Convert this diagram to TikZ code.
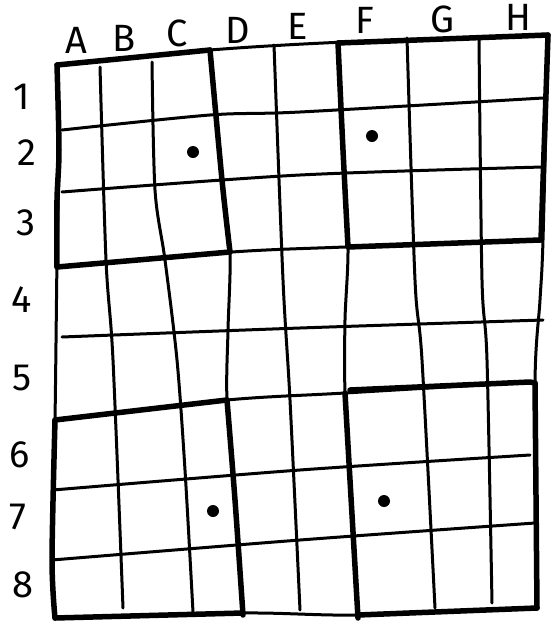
\documentclass[tikz,border=0pt]{standalone}
\usepackage{fontspec}
\setmainfont{Fira Sans}
\begin{document}
\begin{tikzpicture}[x=1pt,y=-1pt,line join=round,line cap=round,
  thin line/.style={line width=3pt},
  thick line/.style={line width=5.5pt},
  lbl/.style={font=\fontsize{38}{38}\selectfont,inner sep=0pt},
  stone/.style={circle,fill=black,inner sep=0pt,minimum size=12pt}]
\useasboundingbox (0,0) rectangle (551,627);
% labels
\node[lbl] (cA) at (76,40) {A};
\node[lbl] (cB) at (124,38) {B};
\node[lbl] (cC) at (177,33) {C};
\node[lbl] (cD) at (238,30) {D};
\node[lbl] (cE) at (298,26) {E};
\node[lbl] (cF) at (365,20) {F};
\node[lbl] (cG) at (442,19) {G};
\node[lbl] (cH) at (518,17) {H};
\node[lbl] (r1) at (22,97) {1};
\node[lbl] (r2) at (27,153) {2};
\node[lbl] (r3) at (26,223) {3};
\node[lbl] (r4) at (22,300) {4};
\node[lbl] (r5) at (22,378) {5};
\node[lbl] (r6) at (20,455) {6};
\node[lbl] (r7) at (18,517) {7};
\node[lbl] (r8) at (23,585) {8};
% vertical lines
\draw[thin line] plot[smooth,tension=0.5] coordinates {(57,65) (59,150) (57,260) (55,420) (52,560) (55,618)};
\draw[thin line] plot[smooth,tension=0.5] coordinates {(100,67) (106,260) (113,360) (123,608)};
\draw[thin line] plot[smooth,tension=0.5] coordinates {(152,62) (155,190) (165,260) (177,360) (185,470) (193,612)};
\draw[thin line] plot[smooth,tension=0.5] coordinates {(210,50) (222,180) (230,252) (228,330) (227,400) (235,500) (243,615)};
\draw[thin line] plot[smooth,tension=0.5] coordinates {(274,45) (283,280) (290,400) (300,610)};
\draw[thin line] plot[smooth,tension=0.5] coordinates {(338,43) (343,150) (348,247) (345,320) (345,393) (350,480) (358,618)};
\draw[thin line] plot[smooth,tension=0.5] coordinates {(407,38) (415,280) (422,360) (435,608)};
\draw[thin line] plot[smooth,tension=0.5] coordinates {(479,40) (482,280) (487,360) (492,603)};
\draw[thin line] plot[smooth,tension=0.5] coordinates {(548,35) (543,240) (540,300) (535,383) (537,608)};
% horizontal lines
\draw[thin line] plot[smooth,tension=0.5] coordinates {(57,65) (210,50) (345,42) (548,35)};
\draw[thin line] plot[smooth,tension=0.5] coordinates {(62,130) (210,115) (300,112) (543,98)};
\draw[thin line] plot[smooth,tension=0.5] coordinates {(62,192) (300,175) (543,167)};
\draw[thin line] plot[smooth,tension=0.5] coordinates {(57,267) (232,252) (345,247) (540,240)};
\draw[thin line] plot[smooth,tension=0.5] coordinates {(62,337) (300,328) (543,320)};
\draw[thin line] plot[smooth,tension=0.5] coordinates {(55,420) (227,400) (345,393) (530,382)};
\draw[thin line] plot[smooth,tension=0.5] coordinates {(53,490) (300,470) (530,455)};
\draw[thin line] plot[smooth,tension=0.5] coordinates {(52,560) (300,540) (535,523)};
\draw[thin line] plot[smooth,tension=0.5] coordinates {(55,618) (243,613) (358,615) (537,608)};
% thick 3x3 boxes
\draw[thick line] (57,65) -- (210,50);
\draw[thick line] plot[smooth,tension=0.5] coordinates {(210,50) (222,180) (230,252)};
\draw[thick line] (230,252) -- (57,267);
\draw[thick line] plot[smooth,tension=0.5] coordinates {(57,267) (57,200) (59,150) (57,65)};
\draw[thick line] (338,43) -- (548,35);
\draw[thick line] (548,35) -- (541,240);
\draw[thick line] (540,240) -- (348,247);
\draw[thick line] plot[smooth,tension=0.5] coordinates {(338,43) (343,150) (348,247)};
\draw[thick line] (55,420) -- (227,400);
\draw[thick line] plot[smooth,tension=0.5] coordinates {(227,400) (235,500) (243,615)};
\draw[thick line] (243,613) -- (55,618);
\draw[thick line] plot[smooth,tension=0.5] coordinates {(55,618) (52,560) (55,420)};
\draw[thick line] (350,390) -- (530,382) -- (535,383);
\draw[thick line] (535,383) -- (537,608);
\draw[thick line] (537,608) -- (358,615);
\draw[thick line] plot[smooth,tension=0.5] coordinates {(345,393) (350,480) (358,618)};
% stones
\node[stone] (dC2) at (193,152) {};
\node[stone] (dF2) at (372,136) {};
\node[stone] (dC7) at (213,511) {};
\node[stone] (dF7) at (384,501) {};
\end{tikzpicture}
\end{document}
